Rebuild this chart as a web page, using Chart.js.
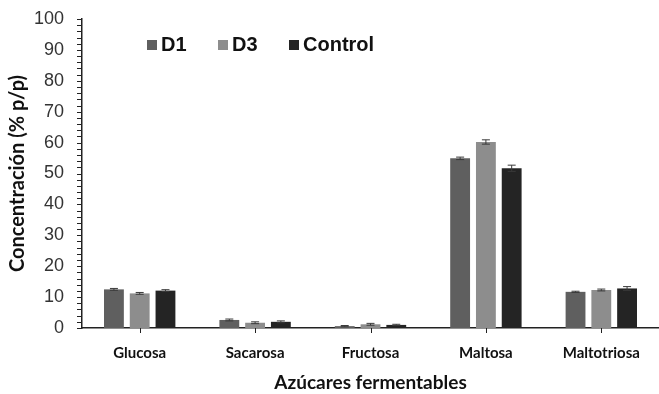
<!DOCTYPE html>
<html>
<head>
<meta charset="utf-8">
<script src="https://cdn.jsdelivr.net/npm/chart.js@4/dist/chart.umd.min.js"></script>
<style>
  html, body { margin: 0; padding: 0; background: #fff; }
  #wrap { width: 659px; height: 394px; }
</style>
</head>
<body>
<div id="wrap"><canvas id="azucares"></canvas></div>
<script>
// datos
var categorias = ['Glucosa', 'Sacarosa', 'Fructosa', 'Maltosa', 'Maltotriosa'];
var d1 = [12.5, 2.6, 0.6, 54.9, 11.7];
var d3 = [11.2, 1.7, 1.2, 60.2, 12.3];
var control = [12.1, 2.0, 1.0, 51.7, 12.8];
var errD1 = [0.3, 0.3, 0.2, 0.4, 0.2];
var errD3 = [0.3, 0.3, 0.3, 0.7, 0.3];
var errControl = [0.3, 0.3, 0.2, 1.0, 0.6];

var colores = ['#5f5f5f', '#8d8d8d', '#242424'];

// marcas del eje y cada 2 unidades
var marcasY = [];
for (var m = 0; m <= 100; m += 2) marcasY.push(m);

// barras de error
var errorBars = {
  id: 'errorBars',
  afterDatasetsDraw: function(chart) {
    var ctx = chart.ctx;
    var y = chart.scales.y;
    ctx.save();
    ctx.strokeStyle = '#3a3a3a';
    ctx.lineWidth = 1;
    chart.data.datasets.forEach(function(ds, i) {
      var meta = chart.getDatasetMeta(i);
      meta.data.forEach(function(bar, j) {
        var v = ds.data[j], e = ds.err[j];
        var top = y.getPixelForValue(v + e);
        var bot = y.getPixelForValue(v - e);
        ctx.beginPath();
        ctx.moveTo(bar.x, top); ctx.lineTo(bar.x, bot);
        ctx.moveTo(bar.x - 4, top); ctx.lineTo(bar.x + 4, top);
        ctx.moveTo(bar.x - 4, bot); ctx.lineTo(bar.x + 4, bot);
        ctx.stroke();
      });
    });
    ctx.restore();
  }
};

// marcas de los ejes
var marcas = {
  id: 'marcas',
  afterDraw: function(chart) {
    var ctx = chart.ctx;
    var x = chart.scales.x, y = chart.scales.y;
    ctx.save();
    ctx.strokeStyle = '#222';
    ctx.lineWidth = 1;
    ctx.beginPath();
    marcasY.forEach(function(v) {
      var py = Math.round(y.getPixelForValue(v)) + 0.5;
      ctx.moveTo(x.left - 5, py); ctx.lineTo(x.left, py);
    });
    categorias.forEach(function(c, i) {
      var px = Math.round(x.getPixelForValue(i)) + 0.5;
      ctx.moveTo(px, y.bottom); ctx.lineTo(px, y.bottom + 5);
    });
    ctx.stroke();
    ctx.restore();
  }
};

// leyenda dentro del area
var leyenda = {
  id: 'leyenda',
  afterDraw: function(chart) {
    var ctx = chart.ctx;
    var xs = [147, 218, 289];
    ctx.save();
    ctx.font = 'bold 20px "Liberation Sans", Arial, sans-serif';
    ctx.textBaseline = 'middle';
    chart.data.datasets.forEach(function(ds, i) {
      ctx.fillStyle = ds.backgroundColor;
      ctx.fillRect(xs[i], 40, 10, 10);
      ctx.fillStyle = '#111';
      ctx.fillText(ds.label, xs[i] + 14, 45);
    });
    ctx.restore();
  }
};

var ctx1 = document.getElementById('azucares');
var chart = new Chart(ctx1, {
  type: 'bar',
  data: {
    labels: categorias,
    datasets: [
      { label: 'D1', data: d1, err: errD1, backgroundColor: colores[0] },
      { label: 'D3', data: d3, err: errD3, backgroundColor: colores[1] },
      { label: 'Control', data: control, err: errControl, backgroundColor: colores[2] }
    ]
  },
  options: {
    responsive: true,
    maintainAspectRatio: false,
    animation: false,
    categoryPercentage: 0.67,
    barPercentage: 0.77,
    layout: { padding: { top: 19, right: 0, left: 0, bottom: 0 } },
    plugins: {
      legend: { display: false },
      tooltip: { enabled: false }
    },
    scales: {
      x: {
        afterFit: function(s) { s.height = 66; },
        border: { color: '#222', width: 1.5 },
        grid: { display: false, tickLength: 5 },
        ticks: {
          color: '#111',
          padding: 11,
          font: { family: 'Lato', weight: 'bold', size: 15 }
        },
        title: {
          display: true,
          text: 'Azúcares fermentables',
          color: '#111',
          padding: { top: 8, bottom: 0 },
          font: { family: 'Lato', weight: 'bold', size: 19 }
        }
      },
      y: {
        min: 0,
        max: 100,
        afterFit: function(s) { s.width = 82; s.paddingTop = 0; s.paddingBottom = 0; },
        afterBuildTicks: function(s) {
          s.ticks = marcasY.map(function(v) { return { value: v }; });
        },
        border: { color: '#222', width: 1.5 },
        grid: { display: false, tickLength: 5 },
        ticks: {
          autoSkip: false,
          color: '#333',
          padding: 13,
          font: { family: '"Liberation Sans", Arial, sans-serif', size: 18 },
          callback: function(v) { return v % 10 === 0 ? v : ''; }
        },
        title: {
          display: true,
          text: 'Concentración (% p/p)',
          color: '#111',
          padding: { top: 6, bottom: 0 },
          font: { family: 'Lato', weight: 'bold', size: 20 }
        }
      }
    }
  },
  plugins: [errorBars, marcas, leyenda]
});
</script>
</body>
</html>
